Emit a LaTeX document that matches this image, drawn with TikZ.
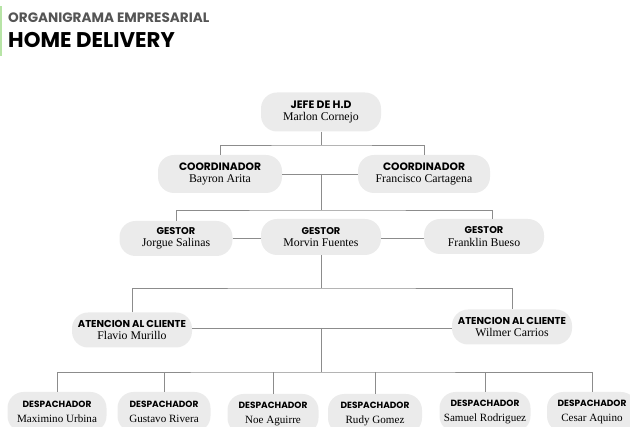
\documentclass[tikz,border=0pt]{standalone}
\usepackage{fontspec}
\newfontfamily\cabfont{Poppins}
\newfontfamily\nomfont{Liberation Serif}
\usetikzlibrary{positioning}
\definecolor{caja}{HTML}{EBEBEB}
\definecolor{linea}{HTML}{8C8C8C}
\definecolor{verde}{HTML}{B7E4A6}
\definecolor{gris}{HTML}{555555}
\tikzset{
  puesto/.style={fill=caja, rounded corners=16pt, align=center, inner sep=0pt,
    minimum height=38pt, font=\nomfont\fontsize{11.8}{12.5}\selectfont},
  rama/.style={draw=linea, line width=0.8pt}
}
\newcommand{\cargo}[3][10.5]{{\cabfont\bfseries\fontsize{#1}{#1}\selectfont #2}\\#3}

\begin{document}
\begin{tikzpicture}[x=1pt,y=-1pt]
\useasboundingbox (0,0) rectangle (630,427);
%Title
\fill[verde] (0,6) rectangle (2.2,56);
\node[anchor=west,inner sep=0pt,text=gris,font=\cabfont\bfseries\fontsize{13.6}{14}\selectfont] (titulo) at (8,18) {ORGANIGRAMA EMPRESARIAL};
\node[anchor=west,inner sep=0pt,font=\cabfont\bfseries\fontsize{21.3}{22}\selectfont] (subtitulo) at (8,40) {HOME DELIVERY};

%Jefe
\node[puesto,minimum width=120pt,minimum height=39pt] (jefe) at (321,112) {\cargo[10.8]{JEFE DE H.D}{Marlon Cornejo}};

%Coordinadores
\node[puesto,minimum width=124pt] (coordA) at (220,174) {\cargo[10.7]{COORDINADOR}{Bayron Arita}};
\node[puesto,minimum width=132pt] (coordB) at (424,174) {\cargo[10.7]{COORDINADOR}{Francisco Cartagena}};

%Gestores
\node[puesto,minimum width=113pt,minimum height=35pt] (gesA) at (176,238.5) {\cargo[9.8]{GESTOR}{Jorgue Salinas}};
\node[puesto,minimum width=120pt,minimum height=36pt] (gesB) at (321,237) {\cargo[9.8]{GESTOR}{Morvin Fuentes}};
\node[puesto,minimum width=120pt,minimum height=35pt] (gesC) at (484,236.5) {\cargo[9.8]{GESTOR}{Franklin Bueso}};

%Atencion al cliente
\node[puesto,minimum width=120pt,minimum height=35pt] (atenA) at (132,330) {\cargo[10]{ATENCION AL CLIENTE}{Flavio Murillo}};
\node[puesto,minimum width=120pt,minimum height=35pt] (atenB) at (512,327) {\cargo[10]{ATENCION AL CLIENTE}{Wilmer Carrios}};

%Despachadores
\tikzset{desp/.style={puesto,minimum height=40pt,font=\nomfont\fontsize{11.1}{15}\selectfont}}
\node[desp,minimum width=99pt] (desp1) at (57,412) {\cargo[9]{DESPACHADOR}{Maximino Urbina}};
\node[desp,minimum width=93pt] (desp2) at (164,412) {\cargo[9]{DESPACHADOR}{Gustavo Rivera}};
\node[desp,minimum width=91pt] (desp3) at (273,414) {\cargo[9]{DESPACHADOR}{Noe Aguirre}};
\node[desp,minimum width=94pt] (desp4) at (375,414) {\cargo[9]{DESPACHADOR}{Rudy Gomez}};
\node[desp,minimum width=91pt] (desp5) at (485,412) {\cargo[9]{DESPACHADOR}{Samuel Rodriguez}};
\node[desp,minimum width=90pt] (desp6) at (592,412) {\cargo[9]{DESPACHADOR}{Cesar Aquino}};

%Lines
\coordinate (busJ) at (321,145);
\coordinate (busG) at (321,210);
\coordinate (busA) at (321,288);
\coordinate (busD) at (321,372);
\draw[rama] (jefe.south) -- (busJ);
\draw[rama] (coordA.north) |- (busJ) -| (coordB.north);
\draw[rama] (coordA.east) -- (coordB.west);
\draw[rama] (coordA.east -| busG) -- (busG);
\draw[rama] (gesA.north) |- (busG) -| ([xshift=8pt]gesC.north);
\draw[rama] ([yshift=0.5pt]gesA.east) -- ([yshift=0.5pt]gesA.east -| gesB.west);
\draw[rama] ([yshift=0.5pt]gesA.east -| gesB.east) -- ([yshift=0.5pt]gesA.east -| gesC.west);
\draw[rama] (gesB.south) -- (busA);
\draw[rama] (atenA.north) |- (busA) -| (atenB.north);
\draw[rama] ([yshift=2pt]atenA.east) -- ([yshift=2pt]atenA.east -| atenB.west);
\draw[rama] ([yshift=2pt]atenA.east -| busD) -- (busD);
\draw[rama] (desp1.north) |- (busD) -| (desp6.north);
\foreach \d in {desp2,desp3,desp4,desp5}
\draw[rama] (\d.north) -- (\d.north |- busD);
\end{tikzpicture}
\end{document}
